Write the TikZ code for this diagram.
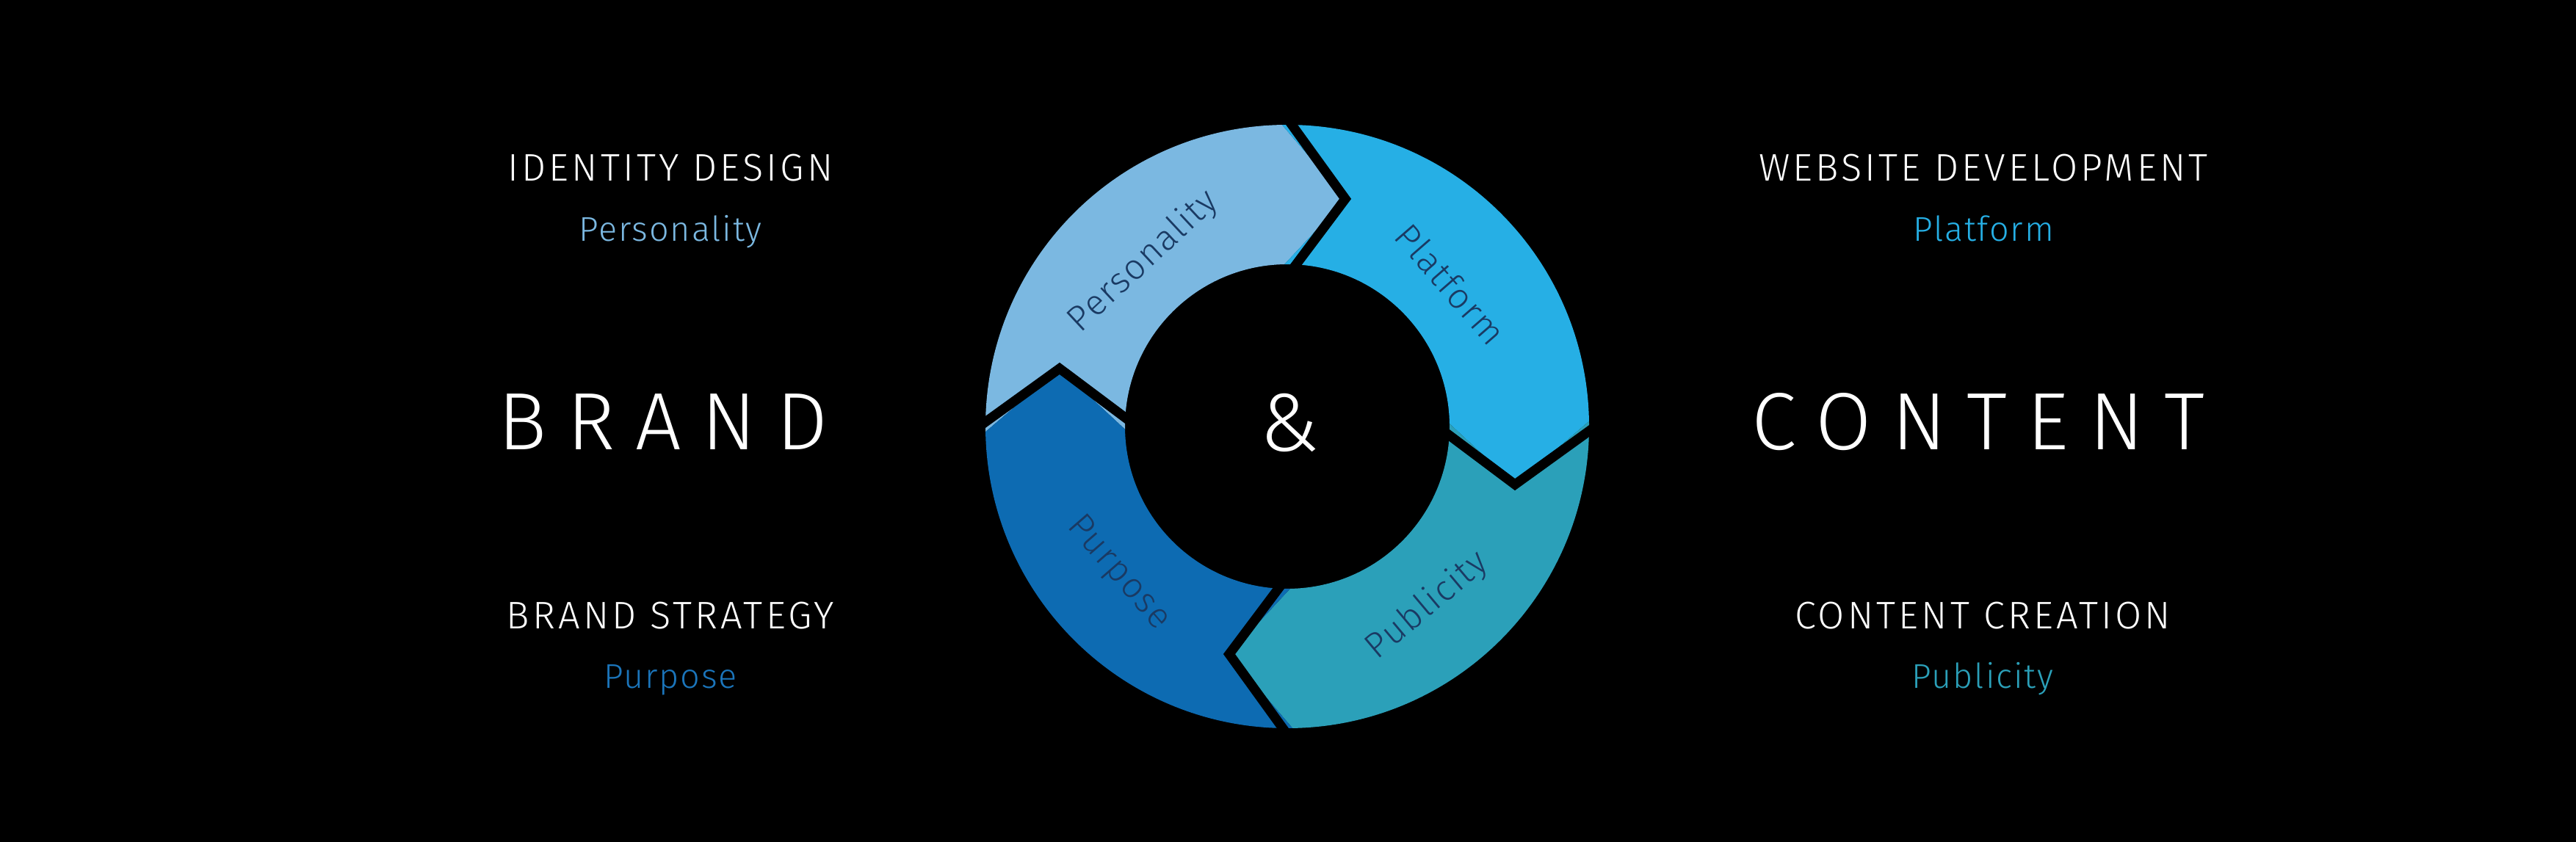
\documentclass[tikz,border=0pt]{standalone}
\usepackage{fontspec}
\setmainfont{Fira Sans Light}
\newfontfamily\capfont{Fira Sans Light}[LetterSpace=8]
\newfontfamily\subfont{Fira Sans Light}[LetterSpace=4]
\newfontfamily\bigfont{Fira Sans Light}[LetterSpace=25]
\usetikzlibrary{positioning}
\definecolor{perscol}{HTML}{7BB8E1}
\definecolor{platcol}{HTML}{26AFE5}
\definecolor{publcol}{HTML}{2BA0B9}
\definecolor{purpcol}{HTML}{0D6BB2}
\definecolor{purptext}{HTML}{1B75BB}
\definecolor{ringink}{HTML}{1A3A63}

\begin{document}
\begin{tikzpicture}[
  headtxt/.style={text=white, font=\capfont\fontsize{14.9}{16}\selectfont, anchor=base, inner sep=0pt},
  subtxt/.style={font=\subfont\fontsize{13.3}{15}\selectfont, anchor=base, inner sep=0pt},
  bigtxt/.style={text=white, font=\bigfont\fontsize{31.5}{34}\selectfont, anchor=base, inner sep=0pt},
  ringtxt/.style={text=ringink, font=\subfont\fontsize{13.8}{15}\selectfont, inner sep=0pt},
  gap/.style={draw=black, line width=1.3mm, miter limit=20},
]
\fill[black] (0,0) rectangle (35.08,-11.47);
\useasboundingbox (0,0) rectangle (35.08,-11.47);

% the cycle
\begin{scope}[shift={(17.53,-5.81)}]
  \coordinate (c) at (0,0);
  \fill[perscol] (181:4.11) arc[start angle=181, end angle=91, radius=4.11] -- (75.7:3.2) -- (91:2.21) arc[start angle=91, end angle=181, radius=2.21] -- (165.7:3.2) -- cycle;
  \fill[platcol] (91:4.11) arc[start angle=91, end angle=1, radius=4.11] -- (-14.3:3.2) -- (1:2.21) arc[start angle=1, end angle=91, radius=2.21] -- (75.7:3.2) -- cycle;
  \fill[publcol] (1:4.11) arc[start angle=1, end angle=-89, radius=4.11] -- (-104.3:3.2) -- (-89:2.21) arc[start angle=-89, end angle=1, radius=2.21] -- (-14.3:3.2) -- cycle;
  \fill[purpcol] (-89:4.11) arc[start angle=-89, end angle=-179, radius=4.11] -- (165.7:3.2) -- (181:2.21) arc[start angle=181, end angle=271, radius=2.21] -- (-104.3:3.2) -- cycle;

  \draw[gap] (91:4.3) -- (75.7:3.2) -- (91:2.0);
  \draw[gap] (1:4.3) -- (-14.3:3.2) -- (1:2.0);
  \draw[gap] (-89:4.3) -- (-104.3:3.2) -- (-89:2.0);
  \draw[gap] (181:4.3) -- (165.7:3.2) -- (181:2.0);

  \node[ringtxt, rotate=43] (rpers) at (131:2.98) {Personality};
  \node[ringtxt, rotate=-49] (rplat) at (41:2.95) {Platform};
  \node[ringtxt, rotate=40] (rpubl) at (-52:3.1) {Publicity};
  \node[ringtxt, rotate=-49] (rpurp) at (-139:3.05) {Purpose};

  \node[text=white, font=\fontsize{32}{34}\selectfont, inner sep=0pt] (amp) at (0.03,0.05) {\&};
\end{scope}

% left side
\node[headtxt] (ident) at (9.13,-2.47) {IDENTITY DESIGN};
\node[subtxt, text=perscol] (ipers) at ([yshift=-8.2mm]ident.base) {Personality};
\node[bigtxt] (brand) at (9.03,-6.13) {BRAND};
\node[headtxt] (strat) at (9.13,-8.57) {BRAND STRATEGY};
\node[subtxt, text=purptext] (spurp) at ([yshift=-8.0mm]strat.base) {Purpose};

% right side
\node[headtxt] (web) at (27.01,-2.47) {WEBSITE DEVELOPMENT};
\node[subtxt, text=platcol] (wplat) at ([yshift=-8.2mm]web.base) {Platform};
\node[bigtxt] (content) at (26.94,-6.13) {CONTENT};
\node[headtxt] (creat) at (27.00,-8.57) {CONTENT CREATION};
\node[subtxt, text=publcol] (cpubl) at ([yshift=-8.0mm]creat.base) {Publicity};
\end{tikzpicture}
\end{document}
